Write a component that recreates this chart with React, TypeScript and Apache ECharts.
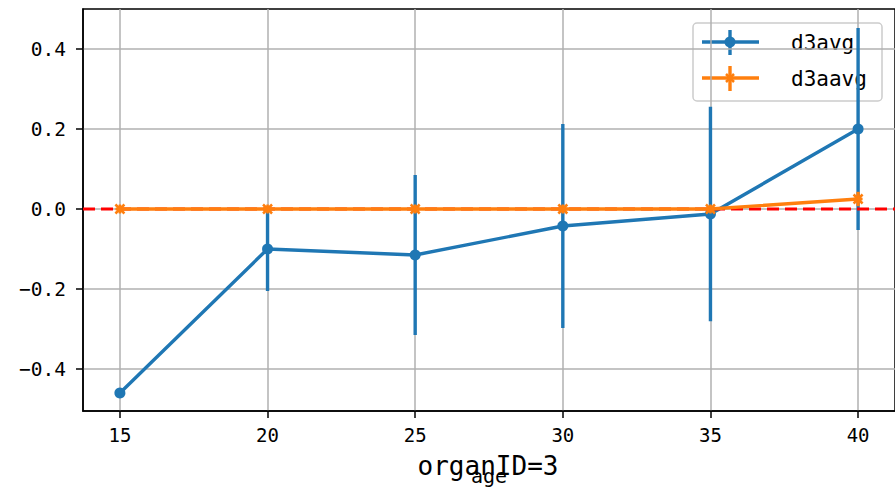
import React, { useEffect, useRef } from "react";
import * as echarts from "echarts";

const ages = [15, 20, 25, 30, 35, 40];
const d3avg = [-0.46, -0.1, -0.115, -0.0425, -0.0125, 0.2];
const d3avgErr = [0, 0.105, 0.2, 0.255, 0.268, 0.2525];
const d3aavg = [0, 0, 0, 0, 0, 0.025];
const d3aavgErr = [0, 0, 0, 0, 0, 0.018];
const xTicks = [15, 20, 25, 30, 35, 40];
const yTicks = [-0.4, -0.2, 0, 0.2, 0.4];
const seriesNames = ["d3avg", "d3aavg"];
const titleText = "organID=3";
const xName = "age";

const BLUE = "#1f77b4";
const ORANGE = "#ff7f0e";
const TICK_FONT = "DejaVu Sans Mono";
const XPATH = "path://M0,0L10,10M10,0L0,10M5,0L5,10M0,5L10,5";

function errRender(color: string) {
  return (params: any, api: any) => {
    const x = api.value(0);
    const y = api.value(1);
    const e = api.value(2);
    if (!e) return { type: "group", children: [] };
    const p1 = api.coord([x, y - e]);
    const p2 = api.coord([x, y + e]);
    return {
      type: "line",
      shape: { x1: p1[0], y1: p1[1], x2: p2[0], y2: p2[1] },
      style: { stroke: color, lineWidth: 3.4 },
    };
  };
}

const isMult = (v: number, step: number) =>
  Math.abs(v / step - Math.round(v / step)) < 1e-6;

export default function App() {
  const ref = useRef<HTMLDivElement>(null);
  useEffect(() => {
    if (!ref.current) return;
    const chart = echarts.init(ref.current, null, { renderer: "svg" });
    const blueData = ages.map((a, i) => [a, d3avg[i]]);
    const orangeData = ages.map((a, i) => [a, d3aavg[i]]);
    const blueErr = ages.map((a, i) => [a, d3avg[i], d3avgErr[i]]);
    const orangeErr = ages.map((a, i) => [a, d3aavg[i], d3aavgErr[i]]);
    chart.setOption({
      animation: false,
      backgroundColor: "#fff",
      grid: {
        left: 83,
        right: 0,
        top: 9,
        bottom: 76,
        show: true,
        borderColor: "#000",
        borderWidth: 1.5,
        containLabel: false,
        outerBoundsMode: "none",
      },
      xAxis: {
        type: "value",
        min: 13.75,
        max: 41.25,
        name: xName,
        nameLocation: "middle",
        nameGap: 55,
        nameTextStyle: { fontFamily: TICK_FONT, fontSize: 20, color: "#000" },
        axisLine: { show: true, onZero: false, lineStyle: { color: "#000", width: 1.5 } },
        axisTick: {
          show: true,
          length: 7,
          customValues: xTicks,
          lineStyle: { color: "#000", width: 1.5 },
        },
        axisLabel: {
          color: "#000",
          fontFamily: TICK_FONT,
          fontSize: 19,
          margin: 14,
          customValues: xTicks,
          formatter: (v: number) => (isMult(v, 5) ? String(Math.round(v)) : ""),
        },
        splitLine: { show: true, lineStyle: { color: "#b0b0b0", width: 1.5 } },
      },
      yAxis: {
        type: "value",
        min: -0.505,
        max: 0.5,
        axisLine: { show: true, onZero: false, lineStyle: { color: "#000", width: 1.5 } },
        axisTick: {
          show: true,
          length: 7,
          customValues: yTicks,
          lineStyle: { color: "#000", width: 1.5 },
        },
        axisLabel: {
          color: "#000",
          fontFamily: TICK_FONT,
          fontSize: 19.5,
          margin: 17,
          customValues: yTicks,
          formatter: (v: number) =>
            isMult(v, 0.2) ? v.toFixed(1).replace("-", "\u2212") : "",
        },
        splitLine: { show: true, lineStyle: { color: "#b0b0b0", width: 1.5 } },
      },
      series: [
        {
          type: "custom",
          name: "errA",
          renderItem: errRender(BLUE),
          data: blueErr,
          encode: { x: 0, y: 1 },
          z: 2,
          silent: true,
        },
        {
          type: "line",
          name: seriesNames[0],
          data: blueData,
          symbol: "circle",
          symbolSize: 11,
          lineStyle: { color: BLUE, width: 3.4 },
          itemStyle: { color: BLUE },
          z: 3,
        },
        {
          type: "line",
          name: "zero",
          data: [
            [13.75, 0],
            [41.25, 0],
          ],
          symbol: "none",
          lineStyle: { color: "#ff0000", width: 3.2, type: [12, 6] },
          z: 4,
        },
        {
          type: "custom",
          name: "errB",
          renderItem: errRender(ORANGE),
          data: orangeErr,
          encode: { x: 0, y: 1 },
          z: 5,
          silent: true,
        },
        {
          type: "line",
          name: seriesNames[1],
          data: orangeData,
          symbol: XPATH,
          symbolSize: 9,
          lineStyle: { color: ORANGE, width: 3.4 },
          itemStyle: { color: ORANGE, borderColor: ORANGE, borderWidth: 2.5 },
          z: 6,
        },
      ],
      graphic: [
        {
          type: "group",
          z: 100,
          children: [
            {
              type: "rect",
              shape: { x: 693, y: 23, width: 189, height: 78, r: 4 },
              style: { fill: "rgba(255,255,255,0.8)", stroke: "#cccccc", lineWidth: 1.5 },
            },
            {
              type: "line",
              shape: { x1: 702, y1: 42, x2: 759, y2: 42 },
              style: { stroke: BLUE, lineWidth: 3.4 },
            },
            {
              type: "line",
              shape: { x1: 730, y1: 30, x2: 730, y2: 55 },
              style: { stroke: BLUE, lineWidth: 3.4 },
            },
            {
              type: "circle",
              shape: { cx: 730, cy: 42, r: 5.5 },
              style: { fill: BLUE },
            },
            {
              type: "text",
              x: 791,
              y: 43,
              style: {
                text: seriesNames[0],
                fontFamily: TICK_FONT,
                fontSize: 21,
                fill: "#000",
                textVerticalAlign: "middle",
              },
            },
            {
              type: "line",
              shape: { x1: 702, y1: 78, x2: 759, y2: 78 },
              style: { stroke: ORANGE, lineWidth: 3.4 },
            },
            {
              type: "line",
              shape: { x1: 730, y1: 66, x2: 730, y2: 91 },
              style: { stroke: ORANGE, lineWidth: 3.4 },
            },
            {
              type: "line",
              shape: { x1: 726, y1: 74, x2: 734, y2: 82 },
              style: { stroke: ORANGE, lineWidth: 2.5 },
            },
            {
              type: "line",
              shape: { x1: 734, y1: 74, x2: 726, y2: 82 },
              style: { stroke: ORANGE, lineWidth: 2.5 },
            },
            {
              type: "text",
              x: 791,
              y: 79,
              style: {
                text: seriesNames[1],
                fontFamily: TICK_FONT,
                fontSize: 21,
                fill: "#000",
                textVerticalAlign: "middle",
              },
            },
          ],
        },
        {
          type: "text",
          x: 488,
          y: 466,
          z: 100,
          style: {
            text: titleText,
            fontFamily: TICK_FONT,
            fontSize: 26,
            fill: "#000",
            textAlign: "center",
            textVerticalAlign: "middle",
          },
        },
      ],
    });
    return () => chart.dispose();
  }, []);
  return <div ref={ref} style={{ width: 895, height: 487, position: "absolute", left: 0, top: 0 }} />;
}
